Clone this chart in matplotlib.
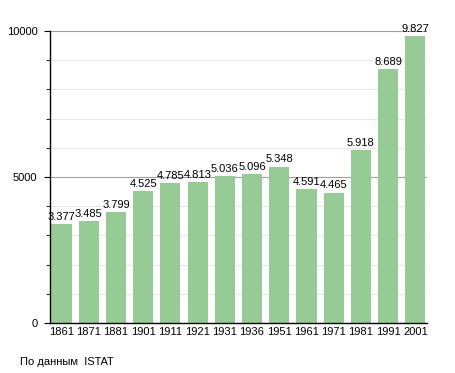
import matplotlib.pyplot as plt
import numpy as np
from matplotlib.ticker import MultipleLocator

plt.rcParams['font.family'] = ['Liberation Sans', 'DejaVu Sans']

years = ['1861', '1871', '1881', '1901', '1911', '1921', '1931',
         '1936', '1951', '1961', '1971', '1981', '1991', '2001']
population = [3377, 3485, 3799, 4525, 4785, 4813, 5036,
              5096, 5348, 4591, 4465, 5918, 8689, 9827]

x = np.arange(len(years))

fig = plt.figure(figsize=(4.55, 3.73), dpi=100)
ax = fig.add_axes([0.11, 0.134, 0.828, 0.783])

ax.bar(x, population, 0.74, color='#97cb96', zorder=2)

for xi, v in zip(x, population):
    label = '{:,}'.format(v).replace(',', '.')
    ax.text(xi, v + 80, label, ha='center', va='bottom', fontsize=8,
            clip_on=False, zorder=3)

ax.set_xlim(-0.42, len(years) - 0.58)
ax.set_ylim(0, 10000)
ax.set_xticks(x)
ax.set_xticklabels(years)
ax.set_yticks([0, 5000, 10000])
ax.yaxis.set_minor_locator(MultipleLocator(1000))

ax.grid(axis='y', which='major', color='#a0a0a0', linewidth=0.8, zorder=0)
ax.grid(axis='y', which='minor', color='#e8e8e8', linewidth=0.8, zorder=0)

for s in ['top', 'right']:
    ax.spines[s].set_visible(False)
ax.spines['left'].set_linewidth(1)
ax.spines['bottom'].set_linewidth(1)

ax.tick_params(axis='x', length=0, labelsize=8, pad=3)
ax.tick_params(axis='y', which='major', length=4, labelsize=8, pad=5)
ax.tick_params(axis='y', which='minor', length=3)

fig.text(20 / 455, 1 - 362 / 373, 'По данным  ISTAT', fontsize=8,
         ha='left', va='center')

plt.savefig('out.png', dpi=100)
